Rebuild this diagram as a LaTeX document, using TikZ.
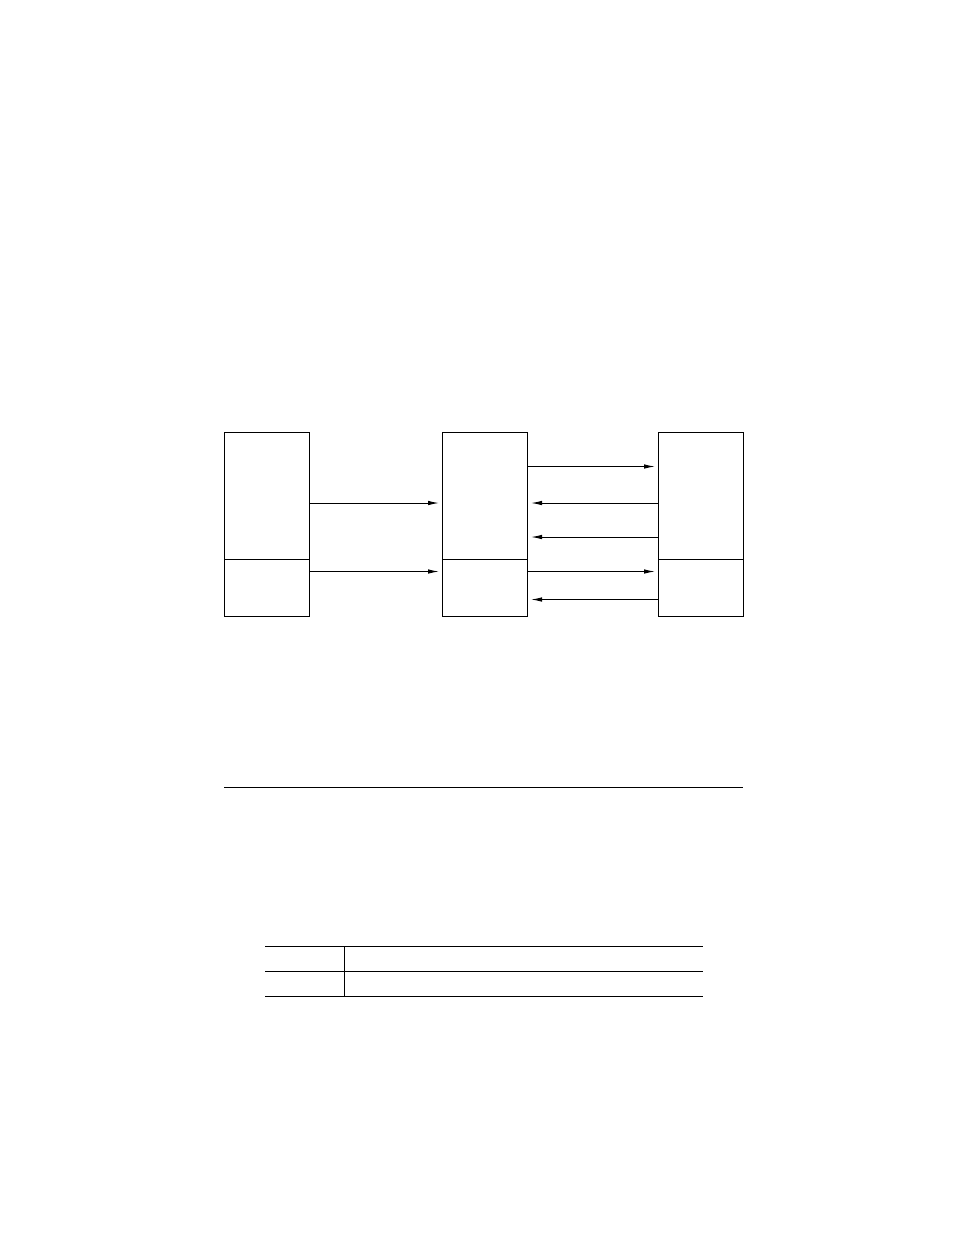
\documentclass[tikz,border=0pt]{standalone}
\usetikzlibrary{arrows.meta,positioning,calc}
\tikzstyle{upper}=[draw, rectangle, inner sep=0pt, minimum width=85pt, minimum height=127pt, line width=1pt]
\tikzstyle{lower}=[draw, rectangle, inner sep=0pt, minimum width=85pt, minimum height=57pt, line width=1pt]
\tikzset{flow/.style={-{Latex[length=11pt,width=4.5pt]}, line width=1pt, shorten >=3pt}}
\tikzset{rule/.style={line width=1pt}}
\tikzset{y=-1pt}
\tikzset{x=1pt}
\newcommand{\link}[3]{
  \draw[flow] (#1 |- 0,#3) -- (#2 |- 0,#3);
}
\begin{document}
\begin{tikzpicture}
  \useasboundingbox (0,0) rectangle (954,1235);
  \draw (266.5,495.5) node[upper] (S1) {};
  \node[lower,below=-1pt of S1] (S2) {};
  \draw (485,495.5) node[upper] (M1) {};
  \node[lower,below=-1pt of M1] (M2) {};
  \draw (701,495.5) node[upper] (R1) {};
  \node[lower,below=-1pt of R1] (R2) {};

  \link{S1.east}{M1.west}{503}
  \link{S2.east}{M2.west}{571.5}

  \link{M1.east}{R1.west}{466.5}
  \link{R1.west}{M1.east}{503}
  \link{R1.west}{M1.east}{537}
  \link{M2.east}{R2.west}{571.5}
  \link{R2.west}{M2.east}{599.5}

  %% Separator
  \draw[rule] (224,787) -- (743,787);

  %% Table rules
  \coordinate (T1) at (265,946);
  \coordinate (T2) at (703,946);
  \draw[rule] (T1) -- (T2);
  \draw[rule] ($(T1)+(0,25)$) -- ($(T2)+(0,25)$);
  \draw[rule] ($(T1)+(0,50)$) -- ($(T2)+(0,50)$);
  \draw[rule] (344,946) -- (344,996);
\end{tikzpicture}
\end{document}
